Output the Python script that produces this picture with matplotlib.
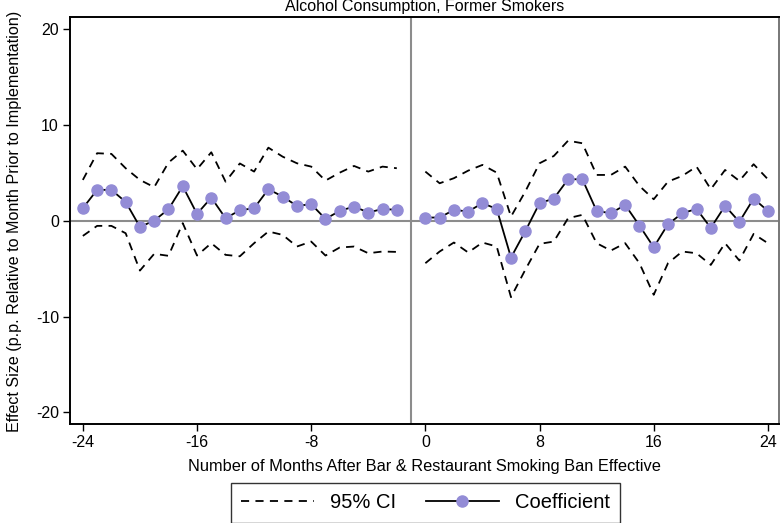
import numpy as np
import matplotlib
matplotlib.use('Agg')
import matplotlib.pyplot as plt
from matplotlib.lines import Line2D

plt.rcParams['font.family'] = ['Liberation Sans', 'DejaVu Sans']
plt.rcParams['axes.unicode_minus'] = False

# Months before the ban (month -1 is the reference and is left out)
months_pre = list(range(-24, -1))
coef_pre = [1.33, 3.24, 3.24, 1.98, -0.63, 0.03, 1.22, 3.62, 0.73, 2.43, 0.28, 1.11,
            1.32, 3.31, 2.54, 1.57, 1.74, 0.21, 1.04, 1.50, 0.87, 1.25, 1.15]
upper_pre = [4.28, 7.07, 7.00, 5.50, 4.28, 3.52, 6.09, 7.34, 5.40, 7.17, 4.10, 6.00,
             5.15, 7.65, 6.71, 6.02, 5.67, 4.21, 5.04, 5.74, 5.15, 5.67, 5.50]
lower_pre = [-1.57, -0.52, -0.52, -1.29, -5.19, -3.44, -3.65, -0.24, -3.62, -2.33, -3.55, -3.70,
             -2.33, -1.11, -1.46, -2.68, -2.16, -3.62, -2.78, -2.68, -3.38, -3.20, -3.24]

# Months after the ban
months_post = list(range(0, 25))
coef_post = [0.35, 0.35, 1.15, 0.98, 1.85, 1.25, -3.83, -1.08, 1.85, 2.33, 4.35, 4.35,
             1.04, 0.80, 1.67, -0.49, -2.75, -0.35, 0.80, 1.25, -0.73, 1.57, -0.10, 2.33, 1.04]
upper_post = [5.15, 3.93, 4.46, 5.25, 5.85, 5.04, 0.45, 3.06, 6.02, 6.78, 8.38, 8.11,
              4.80, 4.80, 5.67, 3.65, 2.26, 4.10, 4.70, 5.67, 3.31, 5.32, 4.18, 5.92, 4.35]
lower_post = [-4.42, -3.20, -2.26, -3.30, -2.26, -2.68, -7.97, -5.11, -2.40, -2.16, 0.28, 0.63,
              -2.33, -3.10, -2.33, -4.42, -7.72, -4.42, -3.20, -3.38, -4.60, -2.33, -4.14, -1.36, -2.33]

xticks = [-24, -16, -8, 0, 8, 16, 24]
yticks = [-20, -10, 0, 10, 20]

marker_color = '#938cd6'
dash = (0, (4.5, 3.5))

fig = plt.figure(figsize=(7.81, 5.23), dpi=100)
ax = fig.add_axes([70 / 781, 1 - 424.3 / 523, 709.3 / 781, 407.3 / 523])

ax.axhline(0, color='#8c8c8c', lw=1.5, zorder=1)
ax.axvline(-1, color='#8c8c8c', lw=1.5, zorder=1)

for m, c, u, l in [(months_pre, coef_pre, upper_pre, lower_pre),
                   (months_post, coef_post, upper_post, lower_post)]:
    ax.plot(m, u, color='black', lw=1.3, linestyle=dash, zorder=2)
    ax.plot(m, l, color='black', lw=1.3, linestyle=dash, zorder=2)
    ax.plot(m, c, color='black', lw=1.3, marker='o', markersize=8,
            markerfacecolor=marker_color, markeredgecolor=marker_color, zorder=3)

ax.set_xlim(-24.9, 24.8)
ax.set_ylim(-21.25, 21.3)
ax.set_xticks(xticks)
ax.set_yticks(yticks)
ax.tick_params(direction='out', length=5, width=1, labelsize=11.5, pad=3)

for side in ['left', 'bottom', 'top']:
    ax.spines[side].set_color('black')
    ax.spines[side].set_linewidth(1.4)
ax.spines['right'].set_color('#777777')
ax.spines['right'].set_linewidth(1.4)

ax.set_xlabel('Number of Months After Bar & Restaurant Smoking Ban Effective',
              fontsize=11.8, labelpad=6)
ax.set_ylabel('Effect Size (p.p. Relative to Month Prior to Implementation)',
              fontsize=11.6)
ax.yaxis.set_label_coords(-0.067, 0.497)

fig.text(424.5 / 781, 1 - 11.5 / 523, 'Alcohol Consumption, Former Smokers',
         ha='center', va='baseline', fontsize=11.5)

handles = [
    Line2D([], [], color='black', lw=1.3, linestyle=dash),
    Line2D([], [], color='black', lw=1.3, marker='o', markersize=8,
           markerfacecolor=marker_color, markeredgecolor=marker_color),
]
leg = fig.legend(handles, ['95% CI', 'Coefficient'], loc='center',
                 bbox_to_anchor=(425.5 / 781, 1 - 503 / 523), ncol=2,
                 fontsize=14.5, frameon=True, fancybox=False, shadow=False,
                 handlelength=3.6, columnspacing=1.5, handletextpad=0.8,
                 borderpad=0.5)
leg.get_frame().set_edgecolor('black')
leg.get_frame().set_linewidth(1.0)

fig.savefig('out.png', dpi=100)
